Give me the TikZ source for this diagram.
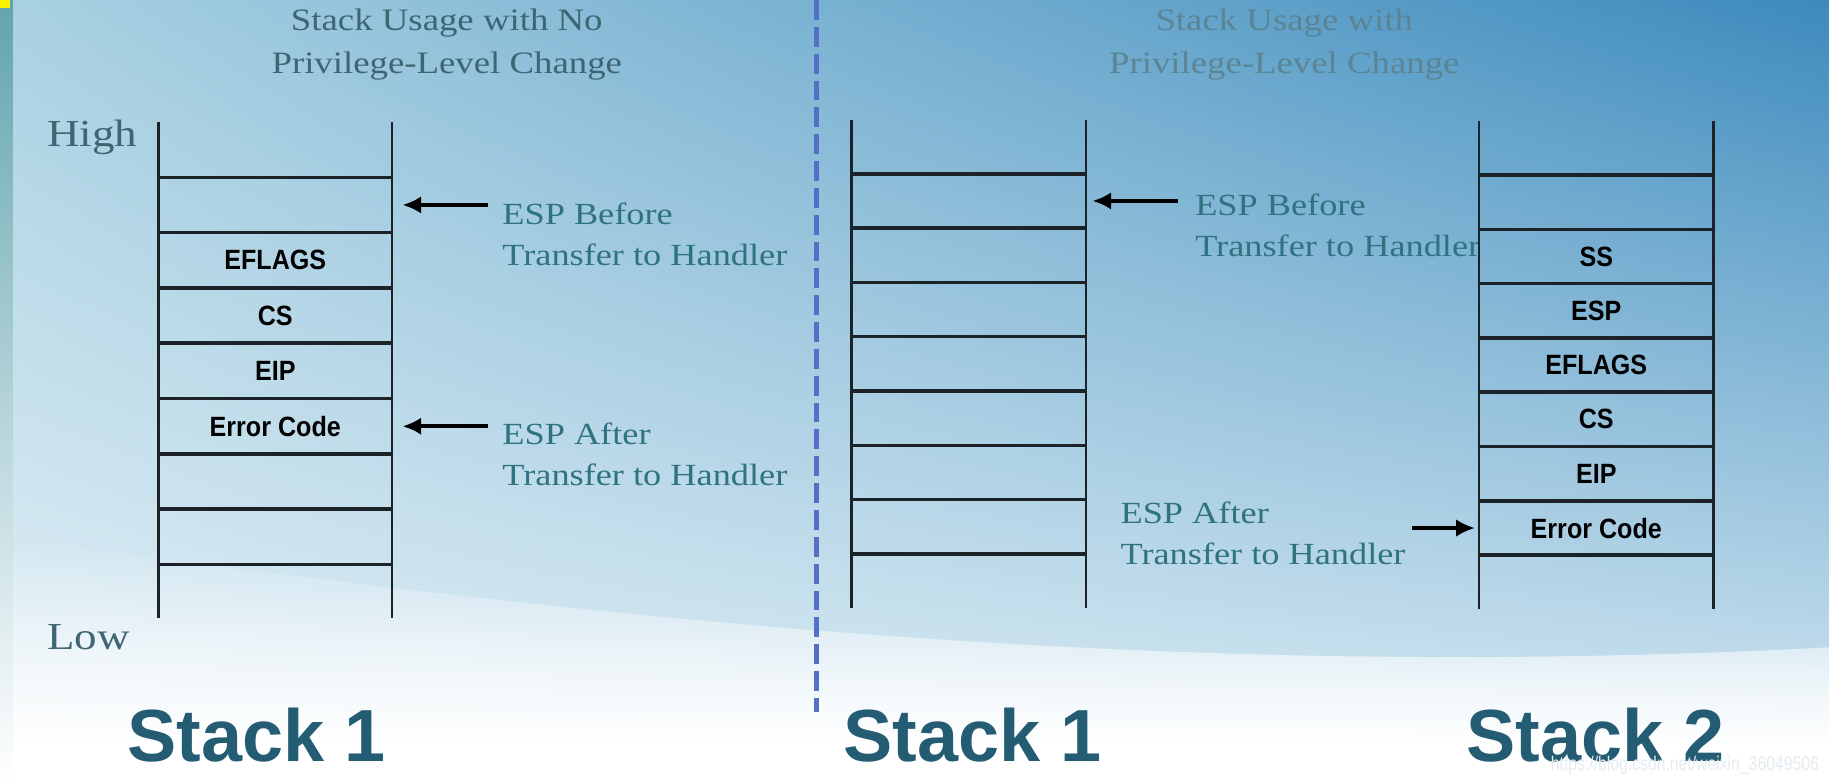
\documentclass[tikz,border=0pt]{standalone}
\usepackage{fontspec}
\usetikzlibrary{arrows.meta,fadings,shadings}
\newfontfamily\notefont[FakeStretch=1.18]{Liberation Serif}
\newfontfamily\cellfont[FakeStretch=0.9]{Liberation Sans}
\newfontfamily\headfont{Liberation Sans}
\newfontfamily\markfont[FakeStretch=0.8]{Liberation Sans}
\definecolor{Rail}{HTML}{1B2328}
\definecolor{Note}{HTML}{2F7380}
\definecolor{Title}{HTML}{3D6572}
\definecolor{TitleSoft}{HTML}{5B8494}
\definecolor{Head}{HTML}{245C73}
\definecolor{Divider}{HTML}{5470C6}
\definecolor{SkyTL}{HTML}{A9D1E2}
\definecolor{SkyTR}{HTML}{3C8ABD}
\definecolor{SkyBL}{HTML}{E3F0F6}
\definecolor{SkyBR}{HTML}{CFE5F0}
\definecolor{Strip}{HTML}{62A4AE}
\definecolor{Marker}{HTML}{FFF200}
\definecolor{Mark}{HTML}{E4ECF0}
\tikzfading[name=whiteup,top color=transparent!100,middle color=transparent!30,bottom color=transparent!0]
\tikzset{
  rail/.style={line width=0.6pt,draw=Rail},
  rung/.style={line width=0.85pt,draw=Rail},
  cell/.style={minimum width=2cm,minimum height=0.4743cm,inner sep=0pt,outer sep=0pt,
    text=black,font=\cellfont\bfseries\fontsize{6.8}{8}\selectfont},
  cellb/.style={cell,minimum height=0.4657cm},
  note/.style={anchor=west,align=left,inner sep=0pt,text=Note,font=\notefont\fontsize{7.5}{10}\selectfont},
  title/.style={align=center,inner sep=0pt,text=Title,font=\notefont\fontsize{7.6}{10.5}\selectfont},
  level/.style={anchor=west,inner sep=0pt,text=Title,font=\notefont\fontsize{9.3}{11}\selectfont},
  stackname/.style={inner sep=0pt,text=Head,font=\headfont\bfseries\fontsize{18}{20}\selectfont},
  esp/.style={-{Latex[length=1.6mm,width=1.5mm]},line width=0.9pt,draw=black},
  divider/.style={line width=1.1pt,draw=Divider,dash pattern=on 0.17cm off 0.06cm},
}

\begin{document}
\begin{tikzpicture}[x=0.01cm,y=-0.01cm]
    \useasboundingbox (0,0) rectangle (1568,671);
    % backdrop
    \shade[upper left=SkyTL,upper right=SkyTR,lower left=SkyBL,lower right=SkyBR] (0,0) rectangle (1568,640);
    \fill[white] (0,639) rectangle (1568,671);
    \fill[white,path fading=whiteup] (0,460) .. controls (500,530) and (1000,585) .. (1568,555) -- (1568,640) -- (0,640) -- cycle;
    \shade[top color=Strip,bottom color=white] (0,0) rectangle (11,671);
    \fill[Marker] (0,0) rectangle (9,7);

    % no privilege-level change
    \node[title] (plaintitle) at (383,38.5) {Stack Usage with No\\Privilege-Level Change};
    \node[level] (high) at (40,118) {High};
    \node[level] (low) at (40,546) {Low};
    \draw[rail] (136,105) -- (136,530);
    \draw[rail] (336,105) -- (336,530);
    \foreach \i/\txt in {1/{},2/EFLAGS,3/CS,4/EIP,5/Error Code,6/{},7/{}}
      \node[cell] (one\i) at (236,{152+47.43*(\i-0.5)}) {\txt};
    \foreach \i in {1,...,7}
      \draw[rung] (one\i.north west) -- (one\i.north east);
    \draw[rung] (one7.south west) -- (one7.south east);
    \node[note] (beforeone) at (430,200.5) {ESP Before\\Transfer to Handler};
    \node[note] (afterone) at (430,389.5) {ESP After\\Transfer to Handler};
    \draw[esp,shorten <=1.2mm,shorten >=0.9mm] (beforeone.west |- one1.east) -- (one1.east);
    \draw[esp,shorten <=1.2mm,shorten >=0.9mm] (afterone.west |- one5.east) -- (one5.east);
    \node[stackname] (labelone) at (220,630) {Stack 1};

    \coordinate (divtop) at (700,0);
    \coordinate (divbot) at (700,610);
    \draw[divider] (divtop) -- (divbot);

    % privilege-level change
    \node[title,text=TitleSoft] (changetitle) at (1101,38.5) {Stack Usage with\\Privilege-Level Change};
    \draw[rail] (730,103) -- (730,521);
    \draw[rail] (931,103) -- (931,521);
    \foreach \i in {1,...,7}
      \node[cellb] (mid\i) at (830.5,{149+46.57*(\i-0.5)}) {};
    \foreach \i in {1,...,7}
      \draw[rung] (mid\i.north west) -- (mid\i.north east);
    \draw[rung] (mid7.south west) -- (mid7.south east);
    \node[note] (beforemid) at (1024,193) {ESP Before\\Transfer to Handler};
    \draw[esp,shorten <=1.4mm,shorten >=0.6mm] (beforemid.west |- mid1.east) -- (mid1.east);
    \node[stackname] (labelmid) at (834,630) {Stack 1};

    \draw[rail] (1268,104) -- (1268,522);
    \draw[rail] (1469,104) -- (1469,522);
    \foreach \i/\txt in {1/{},2/SS,3/ESP,4/EFLAGS,5/CS,6/EIP,7/Error Code}
      \node[cellb] (two\i) at (1368.5,{150+46.57*(\i-0.5)}) {\txt};
    \foreach \i in {1,...,7}
      \draw[rung] (two\i.north west) -- (two\i.north east);
    \draw[rung] (two7.south west) -- (two7.south east);
    \node[note] (aftertwo) at (960,457.5) {ESP After\\Transfer to Handler};
    \draw[esp,shorten <=0.5mm,shorten >=0.4mm] (aftertwo.east |- two7.west) -- (two7.west);
    \node[stackname] (labeltwo) at (1368,630) {Stack 2};

    \node[anchor=east,inner sep=0pt,text=Mark,font=\markfont\fontsize{4.8}{6}\selectfont] (source) at (1560,656) {https://blog.csdn.net/weixin\_36049506};
\end{tikzpicture}
\end{document}
